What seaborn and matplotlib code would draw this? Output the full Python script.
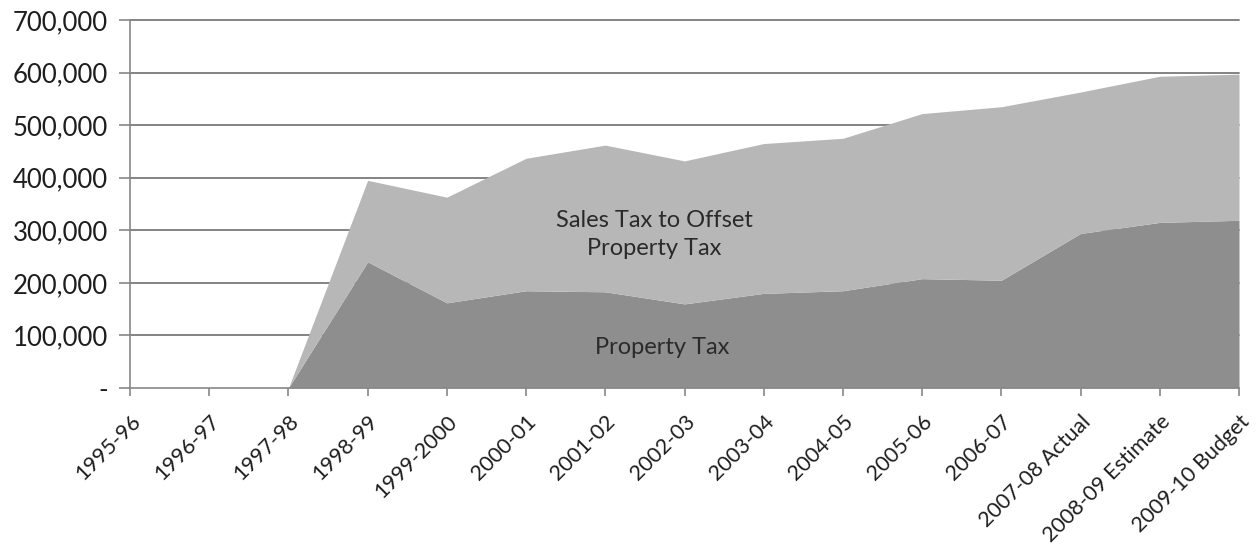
import matplotlib
matplotlib.use("Agg")
import matplotlib.pyplot as plt
import seaborn as sns
import numpy as np
from matplotlib.ticker import FuncFormatter

years = ["1995-96", "1996-97", "1997-98", "1998-99", "1999-2000", "2000-01",
         "2001-02", "2002-03", "2003-04", "2004-05", "2005-06", "2006-07",
         "2007-08 Actual", "2008-09 Estimate", "2009-10 Budget"]
property_tax = [0, 0, 0, 240000, 162000, 185000, 183000, 160000, 180000,
                185000, 208000, 205000, 294000, 315000, 319000]
sales_tax_offset = [0, 0, 0, 155000, 201000, 252000, 279000, 272000, 285000,
                    290000, 314000, 330000, 269000, 278000, 278000]
y_ticks = [0, 100000, 200000, 300000, 400000, 500000, 600000, 700000]

sns.set_style("white")
plt.rcParams['font.family'] = ['Lato', 'DejaVu Sans']

fig = plt.figure(figsize=(12.56, 5.56), dpi=100)
ax = fig.add_axes([130/1256, 1-388/556, (1239-130)/1256, (388-20)/556])

x = np.arange(len(years))
ax.stackplot(x, property_tax, sales_tax_offset,
             colors=["#8e8e8e", "#b7b7b7"], linewidth=0, zorder=3)

ax.set_xlim(0, len(years) - 1)
ax.set_ylim(0, 700000)
ax.set_yticks(y_ticks)
ax.yaxis.set_major_formatter(FuncFormatter(lambda v, p: "-" if v == 0 else f"{int(v):,}"))
ax.set_xticks(x)
ax.set_xticklabels(years, rotation=45, ha="right", rotation_mode="anchor")

for yv in y_ticks[1:]:
    ax.axhline(yv, color="#7a7a7a", lw=1.3, zorder=2, clip_on=False)

for s in ["top", "right"]:
    ax.spines[s].set_visible(False)
ax.spines["left"].set_color("#888888")
ax.spines["left"].set_linewidth(1.2)
ax.spines["bottom"].set_color("#888888")
ax.spines["bottom"].set_linewidth(1.2)
ax.spines["bottom"].set_zorder(4)

ax.tick_params(axis="y", which="major", length=8, width=1.2, color="#888888",
               labelsize=18.5, labelcolor="#1e1e1e", pad=8, direction="out", left=True)
ax.tick_params(axis="x", which="major", length=6, width=1.2, color="#888888",
               labelsize=15.5, labelcolor="#1e1e1e", pad=11, direction="out", bottom=True)

ax.text(6.62, 292000, "Sales Tax to Offset\nProperty Tax", ha="center", va="center",
        fontsize=17, color="#2a2a2a", linespacing=1.45, zorder=5)
ax.text(6.72, 77000, "Property Tax", ha="center", va="center",
        fontsize=17, color="#2a2a2a", zorder=5)

fig.savefig("out.png", dpi=100)
